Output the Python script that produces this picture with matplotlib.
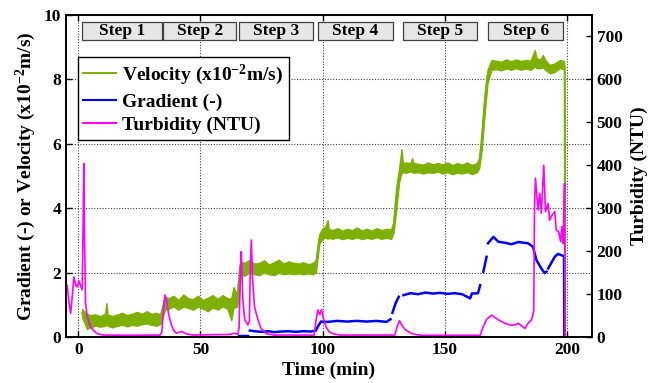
import numpy as np
import matplotlib
matplotlib.use("Agg")
import matplotlib.pyplot as plt
from matplotlib.patches import Rectangle

plt.rcParams['font.family'] = ['Liberation Serif', 'DejaVu Serif']
plt.rcParams['font.weight'] = 'bold'
plt.rcParams['mathtext.fontset'] = 'custom'
plt.rcParams['mathtext.rm'] = 'Liberation Serif:bold'
plt.rcParams['mathtext.bf'] = 'Liberation Serif:bold'
plt.rcParams['mathtext.default'] = 'bf'

GREEN = '#7DB000'
BLUE = '#0000FF'
MAGENTA = '#FF00FF'

# velocity (x10^-2 m/s): noise band (time, lower, upper)
vel_t = [1.6, 2.5, 3.5, 5, 7, 9, 11, 11.5, 12, 14, 16, 18, 20, 22, 24, 26, 28, 30, 32, 33.5, 34.5,
         35.5, 37, 39, 41, 43, 45, 47, 49, 51, 53, 55, 57, 59, 61, 62.6, 63.5, 65, 65.8,
         66.5, 68, 70, 72, 74, 76, 78, 80, 82, 84, 86, 88, 90, 92, 94, 96, 97.2, 98.6,
         100, 101, 102, 102.5, 104, 106, 108, 110, 112, 114, 116, 118, 120, 122, 124, 126, 128, 129, 130, 131.2,
         132.2, 132.8, 134, 136, 136.5, 137.2, 139, 141, 143, 145, 147, 149, 151, 153, 155, 157, 159, 161, 163, 164,
         165, 166.3, 167.4, 169, 171, 173, 175, 177, 179, 181, 183, 185, 186.7, 187.5, 189, 190, 191, 192.8,
         194.5, 196.9, 198.6, 198.9, 199.0]
vel_lo = [0.6, 0.45, 0.25, 0.3, 0.35, 0.32, 0.35, 0.4, 0.35, 0.3, 0.35, 0.38, 0.33, 0.38, 0.35, 0.4, 0.42, 0.38, 0.35, 0.4, 0.6,
          0.85, 0.88, 0.95, 0.85, 0.95, 0.9, 0.85, 0.95, 0.88, 0.8, 0.92, 0.85, 0.95, 0.88, 0.53, 0.9, 0.95, 1.3,
          1.95, 1.9, 2.0, 1.95, 1.92, 2.0, 1.95, 1.92, 2.0, 1.95, 1.98, 1.95, 1.98, 1.95, 1.98, 1.95, 2.0, 2.9,
          3.05, 3.1, 3.05, 3.08, 3.05, 3.1, 3.04, 3.08, 3.05, 3.1, 3.04, 3.08, 3.05, 3.1, 3.05, 3.08, 3.05, 3.25, 3.9, 4.8,
          5.1, 5.12, 5.1, 5.15, 5.12, 5.1, 5.12, 5.08, 5.12, 5.1, 5.14, 5.08, 5.12, 5.06, 5.1, 5.08, 5.12, 5.06, 5.12, 5.25,
          5.8, 7.0, 7.9, 8.3, 8.32, 8.28, 8.34, 8.3, 8.35, 8.3, 8.34, 8.3, 8.4, 8.35, 8.35, 8.38, 8.3, 8.19,
          8.22, 8.35, 8.32, 0.0, 0.0]
vel_hi = [0.87, 0.8, 0.72, 0.68, 0.7, 0.65, 0.72, 1.05, 0.7, 0.65, 0.7, 0.75, 0.68, 0.72, 0.78, 0.72, 0.8, 0.72, 0.75, 0.7, 1.0,
          1.25, 1.2, 1.28, 1.15, 1.32, 1.2, 1.18, 1.28, 1.15, 1.22, 1.3, 1.18, 1.3, 1.2, 1.2, 1.55, 1.3, 2.2,
          2.35, 2.3, 2.4, 2.28, 2.3, 2.38, 2.25, 2.32, 2.4, 2.28, 2.35, 2.3, 2.28, 2.32, 2.26, 2.3, 2.4, 3.2,
          3.38, 3.42, 3.63, 3.35, 3.32, 3.38, 3.3, 3.36, 3.32, 3.4, 3.3, 3.36, 3.3, 3.38, 3.32, 3.36, 3.35, 3.6, 4.6, 5.2,
          5.83, 5.4, 5.42, 5.4, 5.55, 5.4, 5.38, 5.35, 5.42, 5.36, 5.4, 5.36, 5.42, 5.34, 5.4, 5.35, 5.42, 5.34, 5.4, 5.55,
          6.3, 7.6, 8.3, 8.6, 8.58, 8.55, 8.62, 8.56, 8.62, 8.57, 8.6, 8.58, 8.91, 8.65, 8.62, 8.76, 8.6, 8.45,
          8.48, 8.6, 8.58, 8.4, 0.0]

# gradient (-), NaN marks the gaps in the record
grad_t = [65.8, 69.5, np.nan, 70.2, 72, 75, 78, 80, 83, 86, 89, 92, 95, 97.2, 98.2, 99.3, 102, 106, 110, 114,
          118, 122, 126, 127.7, np.nan, 128.5, 129.8, 131.1, np.nan, 133, 135.9, 139, 142, 145, 148, 151, 154,
          157, 160.3, 161, 163.5, 164.4, np.nan, 165.7, 167, np.nan, 167.6, 169.8, 171.8, 175, 177.2, 180, 184,
          186, 187.4, 189.4, 190.8, 191.5, np.nan, 192.2, 194.9, 196.2, 198.3, 198.7, 198.8]
grad_v = [0.03, 0.03, np.nan, 0.2, 0.18, 0.16, 0.18, 0.15, 0.17, 0.18, 0.16, 0.18, 0.17, 0.2, 0.35, 0.48, 0.47, 0.5, 0.48, 0.5,
          0.48, 0.5, 0.47, 0.55, np.nan, 0.75, 1.05, 1.25, np.nan, 1.3, 1.36, 1.33, 1.38, 1.35, 1.37, 1.34, 1.36,
          1.33, 1.2, 1.35, 1.36, 1.61, np.nan, 2.03, 2.49, np.nan, 2.91, 3.11, 2.96, 2.92, 2.88, 2.95, 2.91,
          2.8, 2.39, 2.13, 1.98, 2.03, np.nan, 2.13, 2.49, 2.58, 2.52, 2.52, 0.0]

# turbidity (NTU)
turb_t = [-5, -4.5, -3.8, -3.1, -2.5, -1.8, -1.0, -0.4, 0.3, 0.9, 1.6, 2.0, 2.3, 2.6, 3.0, 3.7, 5.0, 6.5, 7.7, 10,
          20, 33.5, 34.2, 35.0, 35.5, 36.2, 36.9, 38, 38.9, 40, 42.3, 44, 47, 62, 64, 65.2, 65.8, 66.3, 66.7,
          67.3, 68.1, 69.4, 70.0, 70.4, 70.8, 71.3, 72.1, 73.5, 74.8, 76.9, 80, 96.5, 97.2, 98, 98.8, 99.5,
          100.2, 101.3, 102.5, 104, 107, 129.5, 130.3, 131.4, 132.5, 133.8, 136.5, 140, 164.4, 165.5, 167,
          169.1, 171.8, 174.5, 176.5, 178.6, 180, 182.7, 184, 185.4, 186.3, 186.6, 187.0, 188.1, 188.8, 189.4,
          190.4, 191.1, 192.2, 192.8, 193.8, 194.9, 195.5, 196.5, 197.3, 197.8, 198.3, 198.9, 199.1]
turb_v = [120, 121, 82, 55, 90, 140, 120, 117, 131, 120, 110, 262, 404, 225, 79, 47, 24, 14, 8, 4.5,
          4, 4.5, 11, 75, 98, 83, 55, 30, 17, 9, 13, 7.5, 4.5, 6, 9, 6, 22, 150, 199,
          90, 40, 28, 37, 165, 226, 135, 70, 40, 20, 8, 4.5, 4.5, 37, 63, 52, 64,
          45, 24, 13, 8, 4.5, 4.5, 22, 38, 26, 17, 7.5, 4, 4, 22, 41,
          51, 40, 32, 28, 28, 32, 20, 32, 40, 60, 300, 370, 296, 334, 288,
          400, 292, 311, 272, 284, 292, 249, 245, 222, 257, 218, 358, 0]

step_labels = ['Step 1', 'Step 2', 'Step 3', 'Step 4', 'Step 5', 'Step 6']
step_start = [1.6, 34.8, 65.8, 97.9, 132.8, 167.7]
step_end = [34.2, 64.7, 95.9, 128.8, 163.0, 198.3]

fig = plt.figure(figsize=(6.6, 3.83), dpi=100)
ax = fig.add_axes([0.1, 0.1201, 0.7965, 0.8407])
ax2 = ax.twinx()

ax.fill_between(vel_t, vel_lo, vel_hi, color=GREEN, lw=1.0, edgecolor=GREEN, zorder=2)
vel_mid = [(a + b) / 2 for a, b in zip(vel_lo, vel_hi)]
l1, = ax.plot(vel_t[:-2], vel_mid[:-2], color=GREEN, lw=1.5, label='Velocity (x10$^{-2}$m/s)', zorder=2)
l2, = ax.plot(grad_t, grad_v, color=BLUE, lw=1.8, label='Gradient (-)', zorder=3)
l3, = ax2.plot(turb_t, turb_v, color=MAGENTA, lw=1.2, label='Turbidity (NTU)')

for lab, s, e in zip(step_labels, step_start, step_end):
    ax.add_patch(Rectangle((s, 9.22), e - s, 0.57, facecolor='#e6e6e6', edgecolor='#404040', lw=0.9, zorder=4))
    ax.text((s + e) / 2, 9.505, lab, ha='center', va='center', fontsize=12.5, fontweight='bold', zorder=5)

ax.set_xlim(-5, 210)
ax.set_ylim(0, 10)
ax2.set_ylim(0, 750)
ax.set_xticks([0, 50, 100, 150, 200])
ax.set_yticks([0, 2, 4, 6, 8, 10])
ax2.set_yticks([0, 100, 200, 300, 400, 500, 600, 700])
ax.set_axisbelow(True)
ax.grid(True, color='0.25', linestyle=(0, (1, 1.5)), lw=0.8)

ax.tick_params(direction='in', top=True, labelsize=12.5, length=4, width=1)
ax2.tick_params(direction='in', labelsize=12.5, length=4, width=1)
for a in (ax, ax2):
    for sp in a.spines.values():
        sp.set_linewidth(1.2)

ax.set_xlabel('Time (min)', fontsize=14, fontweight='bold', labelpad=3)
ax.set_ylabel('Gradient (-) or Velocity (x10$^{-2}$m/s)', fontsize=14, fontweight='bold', labelpad=4)
ax2.set_ylabel('Turbidity (NTU)', fontsize=14, fontweight='bold', labelpad=6)

leg = ax2.legend(handles=[l1, l2, l3], loc='upper left', bbox_to_anchor=(0.022, 0.870),
                 borderaxespad=0, fancybox=False, edgecolor='black', framealpha=1,
                 fontsize=14, handlelength=1.7, handletextpad=0.3, labelspacing=0.3, borderpad=0.3)
leg.get_frame().set_linewidth(1.0)
for line in leg.get_lines():
    line.set_linewidth(1.5)

fig.savefig('out.png', dpi=100)
